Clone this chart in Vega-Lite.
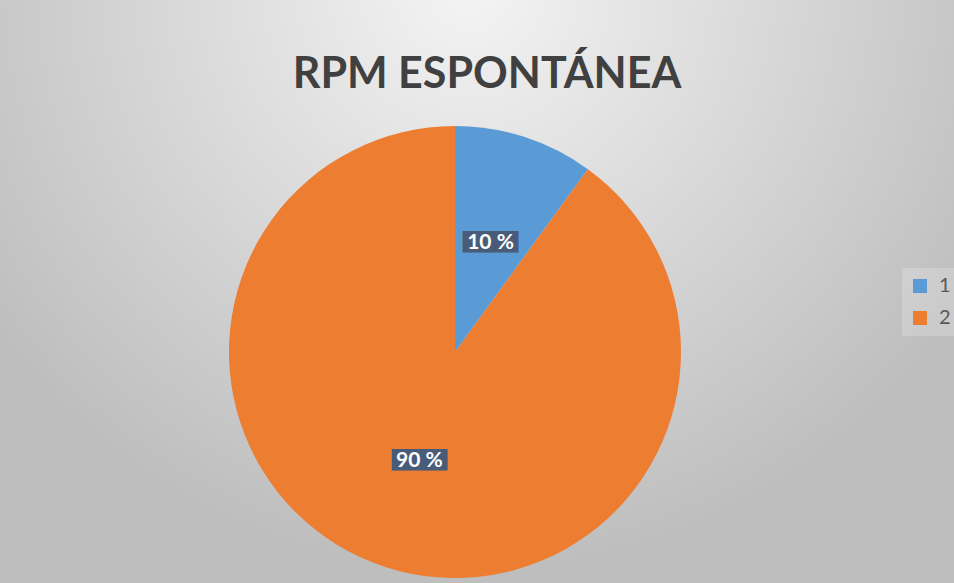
{
  "$schema": "https://vega.github.io/schema/vega-lite/v6.json",
  "width": 894,
  "height": 452,
  "autosize": {"type": "none"},
  "padding": {"left": 8, "top": 126, "right": 52, "bottom": 5},
  "background": "#ffffff",
  "title": {
    "text": "RPM ESPONTÁNEA",
    "anchor": "middle",
    "frame": "group",
    "orient": "top",
    "font": "Lato",
    "fontSize": 43,
    "fontWeight": "bold",
    "color": "#404040",
    "baseline": "alphabetic",
    "offset": -399,
    "dx": 32
  },
  "config": {"view": {"stroke": null}},
  "datasets": {
    "slices": [
      {"cat": "1", "value": 10, "label": "10 %"},
      {"cat": "2", "value": 90, "label": "90 %"}
    ]
  },
  "layer": [
    {
      "data": {"values": [{"bg": "fondo"}]},
      "mark": {
        "type": "arc",
        "theta": 0,
        "theta2": 6.2832,
        "outerRadius": 620,
        "color": {
          "gradient": "radial",
          "x1": 0.512, "y1": 0.205, "r1": 0,
          "x2": 0.512, "y2": 0.205, "r2": 0.47,
          "stops": [
            {"offset": 0, "color": "#f4f4f4"},
            {"offset": 1, "color": "#bebebe"}
          ]
        }
      },
      "encoding": {}
    },
    {
      "data": {"name": "slices"},
      "mark": {"type": "arc"},
      "encoding": {
        "theta": {"field": "value", "type": "quantitative", "stack": true},
        "order": {"field": "cat"},
        "color": {
          "field": "cat",
          "type": "nominal",
          "scale": {"domain": ["1", "2"], "range": ["#5B9BD5", "#ED7D31"]},
          "legend": {
            "title": null,
            "orient": "none",
            "legendX": 894,
            "legendY": 142,
            "symbolType": "square",
            "symbolSize": 196,
            "symbolStrokeWidth": 0,
            "labelFont": "Lato",
            "labelFontSize": 20,
            "labelColor": "#595959",
            "rowPadding": 12,
            "labelOffset": 9,
            "fillColor": "rgba(255,255,255,0.2)",
            "padding": 8
          }
        }
      }
    },
    {
      "data": {"name": "slices"},
      "mark": {
        "type": "text",
        "radius": 115,
        "text": "████",
        "font": "DejaVu Sans",
        "fontSize": 18,
        "letterSpacing": -1,
        "color": "#485B78"
      },
      "encoding": {
        "theta": {"field": "value", "type": "quantitative", "stack": true},
        "order": {"field": "cat"}
      }
    },
    {
      "data": {"name": "slices"},
      "mark": {
        "type": "text",
        "radius": 115,
        "font": "Lato",
        "fontSize": 21,
        "fontWeight": "bold",
        "color": "#ffffff"
      },
      "encoding": {
        "theta": {"field": "value", "type": "quantitative", "stack": true},
        "order": {"field": "cat"},
        "text": {"field": "label"}
      }
    }
  ]
}
